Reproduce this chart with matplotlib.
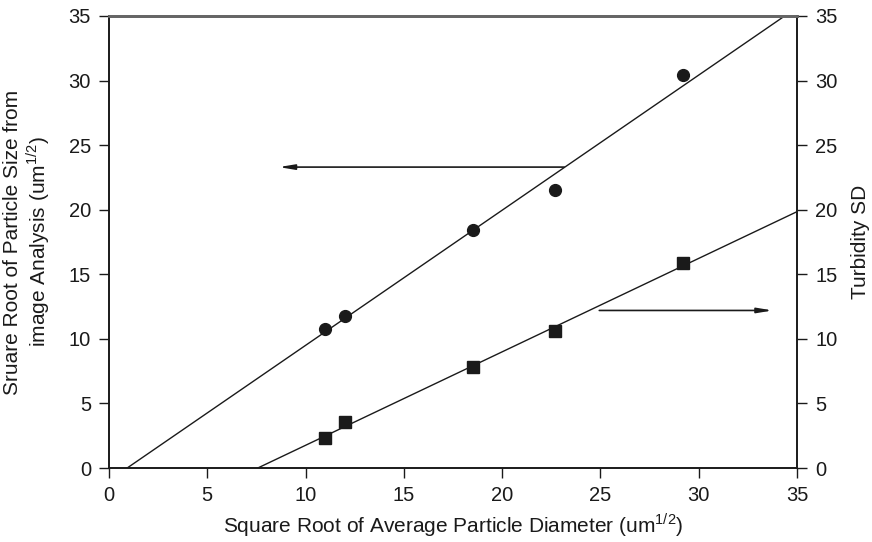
import numpy as np
import matplotlib.pyplot as plt

plt.rcParams['font.family'] = ['Liberation Sans', 'DejaVu Sans']
plt.rcParams['mathtext.fontset'] = 'custom'
plt.rcParams['mathtext.rm'] = 'Liberation Sans'

# sqrt of average particle diameter (x) for both series
diam_sqrt = [11.0, 12.0, 18.5, 22.7, 29.2]
# left axis: sqrt of particle size from image analysis
image_size_sqrt = [10.8, 11.8, 18.4, 21.5, 30.4]
# right axis: turbidity SD
turbidity_sd = [2.3, 3.6, 7.8, 10.6, 15.9]

ticks = [0, 5, 10, 15, 20, 25, 30, 35]
ink = '#1a1a1a'

fig = plt.figure(figsize=(8.72, 5.42), dpi=100)
ax = fig.add_axes([0.125, 0.1365, 0.789, 0.834])
ax2 = ax.twinx()

x = np.array(diam_sqrt)
xs = np.linspace(0, 35, 200)

# regression lines through each data set
p1 = np.polyfit(x, image_size_sqrt, 1)
p2 = np.polyfit(x, turbidity_sd, 1)

ax.plot(xs, np.polyval(p1, xs), color=ink, lw=1.0)
ax.plot(x, image_size_sqrt, 'o', color=ink, ms=8.5)

ax2.plot(xs, np.polyval(p2, xs), color=ink, lw=1.0)
ax2.plot(x, turbidity_sd, 's', color=ink, ms=8.5)

for a in (ax, ax2):
    a.set_xlim(0, 35)
    a.set_ylim(0, 35)
    a.set_yticks(ticks)
    a.tick_params(direction='out', length=7, width=1, labelsize=14.5, colors=ink, pad=6)
    for s in a.spines.values():
        s.set_linewidth(1.2)
        s.set_color(ink)
    a.spines['top'].set_color('#666666')
    a.spines['top'].set_linewidth(2)

ax.set_xticks(ticks)
ax.tick_params(axis='x', pad=6)

# arrows pointing to the axis each set belongs to
arrow = dict(arrowstyle='-|>,head_length=0.9,head_width=0.15', color=ink, lw=1.2)
ax.annotate('', xy=(8.5, 23.3), xytext=(23.3, 23.3), arrowprops=arrow)
ax.annotate('', xy=(33.9, 12.2), xytext=(24.8, 12.2), arrowprops=arrow)

ax.set_xlabel('Square Root of Average Particle Diameter (um$^{1/2}$)', fontsize=15, color=ink)
ax.set_ylabel('Sruare Root of Particle Size from\nimage Analysis (um$^{1/2}$)', fontsize=15,
              color=ink, linespacing=1.1, labelpad=12)
ax2.set_ylabel('Turbidity SD', fontsize=15, color=ink, labelpad=10)

fig.savefig('out.png', dpi=100)
